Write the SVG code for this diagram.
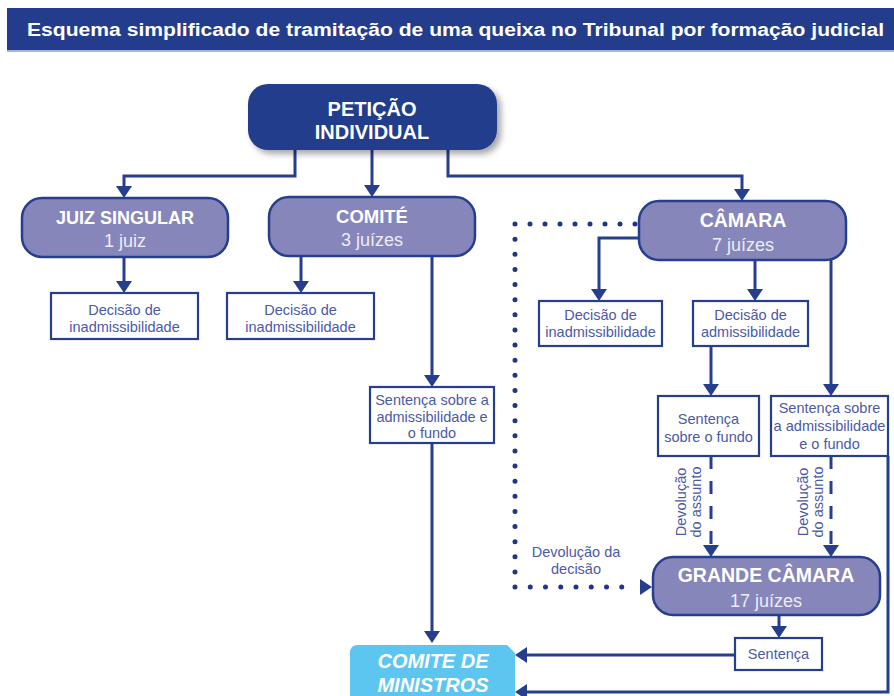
<svg xmlns="http://www.w3.org/2000/svg" width="894" height="696" viewBox="0 0 894 696">
<defs>
<style>
.t{font-family:"Liberation Sans",Arial,sans-serif}
.hd{font-weight:bold;fill:#ffffff;text-anchor:middle}
.sub{fill:#ECECF6;text-anchor:middle;font-size:18px}
.sm{fill:#4B5AA5;font-size:14.5px;text-anchor:middle}
.lav{fill:#8786BA;stroke:#263E8E;stroke-width:2.5}
.box{fill:#ffffff;stroke:#263E8E;stroke-width:2.2}
.ln{fill:none;stroke:#263E8E;stroke-width:3;marker-end:url(#ah)}
.dash{stroke-dasharray:13 12}
.dot{fill:none;stroke:#1F3585;stroke-width:5;stroke-linecap:round}
</style>
<marker id="ah" viewBox="0 0 12 16" refX="9" refY="8" markerWidth="12" markerHeight="16" markerUnits="userSpaceOnUse" orient="auto">
<path d="M0,0 L12,8 L0,16 Z" fill="#263E8E"/>
</marker>
<filter id="sh" x="-10%" y="-10%" width="130%" height="140%">
<feDropShadow dx="4" dy="4" stdDeviation="3" flood-color="#000000" flood-opacity="0.35"/>
</filter>
</defs>
<rect width="894" height="696" fill="#ffffff"/>

<g id="title">
<rect x="7" y="8" width="887" height="43" fill="#243C8C"/>
<rect x="7" y="50" width="887" height="2" fill="#A9B3D6"/>
<text class="t" x="27" y="36" font-size="18" font-weight="bold" fill="#ffffff" textLength="857" lengthAdjust="spacingAndGlyphs">Esquema simplificado de tramitação de uma queixa no Tribunal por formação judicial</text>
</g>

<g id="connectors">
<path class="ln" d="M295 150 V176 H124 V195"/>
<path class="ln" d="M372 150 V194"/>
<path class="ln" d="M448 150 V176 H742 V198"/>
<path class="ln" d="M124 257 V290"/>
<path class="ln" d="M301 256 V290"/>
<path class="ln" d="M432 256 V384"/>
<path class="ln" d="M432 443 V640"/>
<path class="ln" d="M639 238 H599 V298"/>
<path class="ln" d="M755 260 V298"/>
<path class="ln" d="M831 260 V393"/>
<path class="ln" d="M711 346 V393"/>
<path class="ln dash" d="M711 456 V554"/>
<path class="ln dash" d="M831 456 V554"/>
<path class="ln" d="M779 615 V635"/>
<path class="ln" d="M735 655 H518"/>
<path class="ln" d="M888 456 V692 H518"/>
<path class="dot" d="M635 224 H515" stroke-dasharray="0 15"/>
<path class="dot" d="M515 224 V587" stroke-dasharray="0 15.125"/>
<path class="dot" d="M515 587 H637" stroke-dasharray="0 15.25"/>
<path d="M640 579 L652 587 L640 595 Z" fill="#263E8E"/>
</g>

<g id="peticao">
<rect x="248" y="84" width="249" height="66" rx="20" fill="#243C8C" filter="url(#sh)"/>
<text class="t hd" x="372" y="116" font-size="20">PETIÇÃO</text>
<text class="t hd" x="372" y="139" font-size="20">INDIVIDUAL</text>
</g>

<g id="juiz">
<rect class="lav" x="22" y="198" width="206" height="59" rx="20"/>
<text class="t hd" x="125" y="224" font-size="18">JUIZ SINGULAR</text>
<text class="t sub" x="125" y="247">1 juiz</text>
</g>

<g id="comite">
<rect class="lav" x="269" y="197" width="206" height="59" rx="20"/>
<text class="t hd" x="372" y="223" font-size="18.5">COMITÉ</text>
<text class="t sub" x="372" y="246">3 juízes</text>
</g>

<g id="camara">
<rect class="lav" x="639" y="201" width="207" height="59" rx="20"/>
<text class="t hd" x="743" y="227" font-size="19.5">CÂMARA</text>
<text class="t sub" x="743" y="251">7 juízes</text>
</g>

<g id="dec1">
<rect class="box" x="51" y="293" width="147" height="46"/>
<text class="t sm" x="124.5" y="315">Decisão de</text>
<text class="t sm" x="124.5" y="332">inadmissibilidade</text>
</g>

<g id="dec2">
<rect class="box" x="227" y="293" width="147" height="46"/>
<text class="t sm" x="300.5" y="315">Decisão de</text>
<text class="t sm" x="300.5" y="332">inadmissibilidade</text>
</g>

<g id="sent-comite">
<rect class="box" x="370" y="387" width="124" height="56"/>
<text class="t sm" x="432" y="405">Sentença sobre a</text>
<text class="t sm" x="432" y="422">admissibilidade e</text>
<text class="t sm" x="432" y="438">o fundo</text>
</g>

<g id="dec3">
<rect class="box" x="539" y="301" width="123" height="45"/>
<text class="t sm" x="600.5" y="320">Decisão de</text>
<text class="t sm" x="600.5" y="337">inadmissibilidade</text>
</g>

<g id="dec-adm">
<rect class="box" x="693" y="301" width="115" height="45"/>
<text class="t sm" x="750.5" y="320">Decisão de</text>
<text class="t sm" x="750.5" y="337">admissibilidade</text>
</g>

<g id="sent-fundo">
<rect class="box" x="658" y="396" width="101" height="60"/>
<text class="t sm" x="708.5" y="424">Sentença</text>
<text class="t sm" x="708.5" y="442">sobre o fundo</text>
</g>

<g id="sent-adm-fundo">
<rect class="box" x="771" y="396" width="117" height="60"/>
<text class="t sm" x="829.5" y="413">Sentença sobre</text>
<text class="t sm" x="829.5" y="431" textLength="112" lengthAdjust="spacingAndGlyphs">a admissibilidade</text>
<text class="t sm" x="829.5" y="449">e o fundo</text>
</g>

<g id="labels">
<text class="t sm" font-size="14" transform="translate(686,502) rotate(-90)">Devolução</text>
<text class="t sm" font-size="14" transform="translate(701,502) rotate(-90)">do assunto</text>
<text class="t sm" font-size="14" transform="translate(808,502) rotate(-90)">Devolução</text>
<text class="t sm" font-size="14" transform="translate(823,502) rotate(-90)">do assunto</text>
<text class="t sm" font-size="14" x="576" y="557">Devolução da</text>
<text class="t sm" font-size="14" x="576" y="574">decisão</text>
</g>

<g id="grande-camara">
<rect class="lav" x="653" y="557" width="227" height="58" rx="20"/>
<text class="t hd" x="766" y="582" font-size="19.5">GRANDE CÂMARA</text>
<text class="t sub" x="766" y="607">17 juízes</text>
</g>

<g id="sentenca">
<rect class="box" x="735" y="638" width="87" height="32"/>
<text class="t sm" x="778.5" y="659">Sentença</text>
</g>

<g id="comite-ministros">
<path d="M358 645 H507 L515 653 V700 H350 V653 Q350 645 358 645 Z" fill="#5DC6F0"/>
<text class="t hd" x="433" y="668" font-size="20" font-style="italic">COMITE DE</text>
<text class="t hd" x="433" y="692" font-size="20" font-style="italic">MINISTROS</text>
</g>
</svg>
